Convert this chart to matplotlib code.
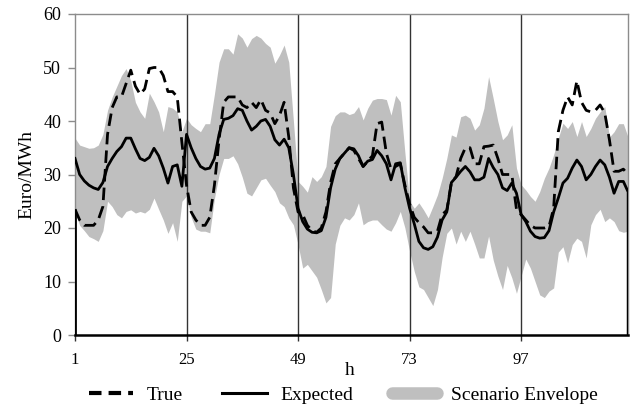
import numpy as np
import matplotlib
matplotlib.use("Agg")
import matplotlib.pyplot as plt
from matplotlib.lines import Line2D

plt.rcParams['font.family'] = ['Liberation Serif', 'DejaVu Serif']

hours = np.arange(1, 121)
tick_hours = [1, 25, 49, 73, 97]
day_breaks = [25, 49, 73, 97]

true_price = [
    23.5, 21.5, 20.5, 20.5, 20.5, 21.5, 24.0, 37.5, 42.5, 44.5, 44.5, 47.0, 49.5, 46.5, 45.0, 46.0, 49.8, 50.0, 50.0, 48.5, 45.5, 45.5, 44.5, 36.0,
    28.0, 23.0, 21.5, 20.5, 20.5, 22.0, 28.0, 36.5, 43.5, 44.5, 44.5, 44.5, 43.0, 42.5, 43.5, 42.5, 44.0, 42.0, 41.5, 39.5, 41.0, 43.5, 37.0, 27.5,
    23.0, 22.5, 20.5, 19.5, 19.2, 20.0, 23.0, 28.5, 32.0, 33.0, 34.0, 35.0, 34.5, 33.0, 31.5, 32.5, 33.5, 39.5, 39.8, 34.0, 31.0, 31.5, 32.0, 28.0,
    24.5, 22.0, 21.0, 20.2, 19.1, 19.1, 19.4, 22.5, 23.3, 28.5, 29.6, 33.0, 35.0, 35.0, 32.0, 32.0, 35.2, 35.3, 35.5, 33.0, 30.0, 30.0, 30.0, 23.5,
    22.5, 21.5, 20.5, 20.0, 20.0, 20.0, 20.3, 23.7, 38.0, 42.0, 44.5, 43.0, 47.5, 43.5, 42.0, 41.7, 42.0, 43.0, 41.5, 36.5, 30.6, 30.6, 31.0, 30.0,
]

expected_price = [
    33.0, 30.0, 28.8, 28.0, 27.5, 27.2, 28.5, 31.5, 33.0, 34.3, 35.2, 36.8, 36.8, 34.8, 33.0, 32.6, 33.2, 34.9, 33.5, 31.2, 28.4, 31.5, 31.8, 27.8,
    37.5, 35.0, 33.0, 31.5, 31.0, 31.2, 33.0, 37.5, 40.3, 40.5, 41.0, 42.3, 42.0, 40.0, 38.3, 39.0, 40.0, 40.3, 39.0, 36.5, 35.5, 36.6, 35.0, 30.0,
    23.7, 21.2, 19.8, 19.2, 19.1, 19.5, 22.0, 27.5, 31.0, 33.0, 34.0, 35.0, 34.8, 33.5, 31.5, 32.5, 32.8, 34.5, 33.5, 32.0, 29.0, 32.0, 32.2, 27.5,
    23.7, 20.8, 17.5, 16.3, 16.0, 16.5, 18.3, 21.5, 23.0, 28.5, 29.5, 30.6, 31.5, 30.5, 29.0, 29.0, 29.5, 33.0, 31.3, 30.0, 27.5, 27.0, 28.4, 26.5,
    22.5, 21.2, 19.4, 18.4, 18.1, 18.2, 19.5, 23.0, 25.6, 28.4, 29.3, 31.2, 32.7, 31.5, 29.0, 30.0, 31.5, 32.7, 31.8, 29.5, 26.5, 28.7, 28.7, 26.8,
]

envelope_upper = [
    36.8, 35.5, 35.2, 34.9, 35.0, 35.5, 37.5, 42.0, 44.5, 46.5, 48.5, 49.8, 47.5, 43.5, 41.7, 40.5, 45.2, 43.6, 41.7, 38.0, 42.7, 42.4, 41.7, 38.0,
    40.5, 39.3, 38.6, 38.0, 39.5, 39.5, 45.0, 51.0, 53.5, 53.5, 52.5, 56.3, 55.5, 53.8, 55.4, 56.0, 55.5, 54.5, 53.8, 50.8, 52.3, 54.2, 51.0, 40.0,
    28.7, 27.8, 26.7, 29.6, 28.7, 29.6, 31.5, 39.0, 41.0, 41.7, 41.7, 41.2, 41.5, 42.7, 40.2, 42.4, 43.9, 44.2, 44.2, 44.0, 41.1, 44.8, 43.6, 34.0,
    25.0, 23.7, 24.7, 23.4, 21.9, 24.0, 26.2, 29.3, 33.0, 37.4, 37.0, 40.8, 41.1, 40.5, 38.3, 39.3, 42.4, 48.3, 44.2, 39.9, 36.5, 37.4, 39.3, 31.2,
    28.1, 27.1, 25.9, 25.0, 26.8, 29.3, 31.2, 33.7, 36.8, 39.6, 38.6, 39.9, 37.1, 39.9, 37.1, 38.6, 40.5, 41.7, 42.7, 37.0, 38.0, 39.5, 39.5, 37.0,
]

envelope_lower = [
    23.1, 20.5, 19.5, 18.4, 18.0, 17.5, 19.5, 25.0, 24.0, 22.5, 21.9, 23.1, 23.4, 22.8, 23.1, 22.8, 23.5, 25.6, 23.5, 21.5, 19.0, 21.0, 17.5, 25.0,
    26.0, 22.0, 19.8, 19.4, 19.4, 19.1, 25.5, 30.0, 33.0, 33.0, 33.5, 32.0, 29.5, 26.5, 26.0, 27.5, 29.0, 29.3, 28.0, 26.8, 24.7, 24.0, 21.9, 20.6,
    16.9, 12.5, 13.2, 12.0, 10.8, 8.5, 6.0, 7.0, 17.0, 20.5, 21.9, 21.5, 22.5, 24.7, 20.6, 21.2, 21.5, 21.5, 20.6, 19.8, 19.4, 21.0, 23.1, 20.0,
    15.7, 11.9, 9.0, 8.5, 7.0, 5.5, 8.5, 14.5, 19.0, 20.0, 17.0, 19.4, 17.5, 19.4, 17.0, 14.4, 14.4, 18.5, 14.0, 11.0, 8.5, 13.0, 10.7, 7.8,
    11.0, 14.2, 12.5, 10.0, 7.5, 7.0, 8.2, 8.8, 15.5, 16.5, 13.5, 16.9, 18.1, 17.5, 14.4, 20.6, 22.5, 23.5, 21.2, 21.9, 21.2, 19.5, 19.2, 19.4,
]

fill_color = '#bfbfbf'

fig = plt.figure(figsize=(6.35, 4.07), dpi=100)
ax = fig.add_axes([75/635, 72/407, 553/635, 321/407])

ax.fill_between(hours, envelope_lower, envelope_upper, color=fill_color, lw=0, zorder=1)
for b in day_breaks:
    ax.axvline(b, color='#333333', lw=1.0, zorder=2)
ax.plot(hours, true_price, color='black', lw=2.0, dashes=(4.5, 2.2), zorder=3)
ax.plot(hours, expected_price, color='black', lw=2.0, zorder=4)
# end-of-series drops to zero at the edges (as in the original chart)
ax.vlines(hours[0], 0, true_price[0], color='black', lw=2.0, zorder=4)
ax.vlines(hours[-1], 0, expected_price[-1], color='black', lw=2.5, zorder=4)

ax.set_xlim(1, 120)
ax.set_ylim(0, 60)
ax.set_xticks(tick_hours)
ax.set_xticklabels([str(t) for t in tick_hours])
ax.set_yticks(np.arange(0, 61, 10))

for side in ['top', 'right', 'left']:
    ax.spines[side].set_color('#8c8c8c')
    ax.spines[side].set_linewidth(1.0)
ax.spines['bottom'].set_color('black')
ax.spines['bottom'].set_linewidth(1.8)

ax.tick_params(axis='y', direction='out', length=5, width=1, color='#8c8c8c',
               labelsize=13, pad=5)
ax.tick_params(axis='x', direction='out', length=4, width=1, color='#333333',
               labelsize=12, pad=8)

ax.set_xlabel('h', fontsize=14)
ax.xaxis.set_label_coords(0.497, -0.085)
ax.set_ylabel('Euro/MWh', fontsize=14)
ax.yaxis.set_label_coords(-0.072, 0.5)

handles = [
    Line2D([], [], color='black', lw=3.0, dashes=(3, 1.7)),
    Line2D([], [], color='black', lw=2.2),
    Line2D([], [], color=fill_color, lw=9, solid_capstyle='round'),
]
labels = ['True', 'Expected', 'Scenario Envelope']
fig.legend(handles, labels, loc='center', bbox_to_anchor=(343/635, 1 - 395/407),
           ncol=3, frameon=False, fontsize=14, handlelength=2.3,
           handletextpad=0.7, columnspacing=2.0, borderaxespad=0, borderpad=0)

fig.savefig('out.png', dpi=100)
